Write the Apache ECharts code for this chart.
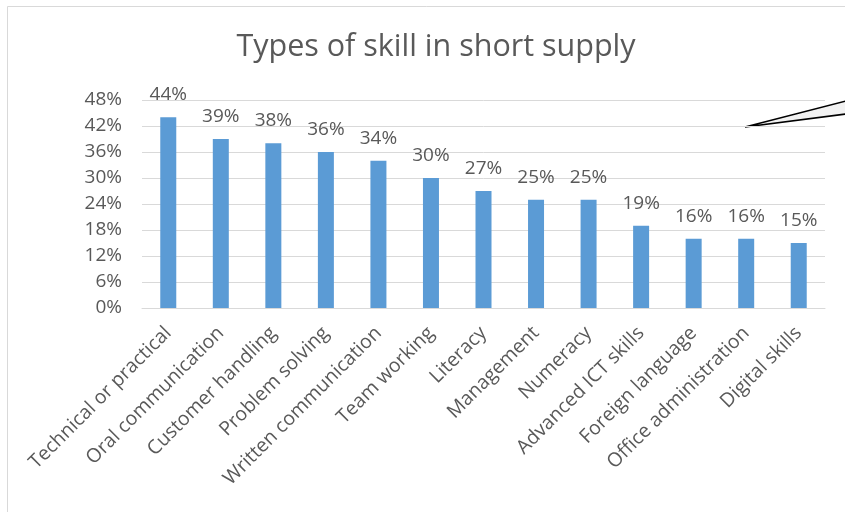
<!DOCTYPE html>
<html>
<head>
<meta charset="utf-8">
<script src="https://cdn.jsdelivr.net/npm/echarts@6/dist/echarts.min.js"></script>
<style>
  html, body { margin: 0; padding: 0; background: #fff; }
  #chart { width: 845px; height: 512px; }
</style>
</head>
<body>
<div id="chart"></div>
<script>
var skills = ['Technical or practical', 'Oral communication', 'Customer handling', 'Problem solving',
  'Written communication', 'Team working', 'Literacy', 'Management', 'Numeracy',
  'Advanced ICT skills', 'Foreign language', 'Office administration', 'Digital skills']
var shares = [44, 39, 38, 36, 34, 30, 27, 25, 25, 19, 16, 16, 15]

var chart = echarts.init(document.getElementById('chart'))
var font = '"Open Sans", "Noto Sans", sans-serif'

chart.setOption({
  backgroundColor: '#fff',
  animation: false,
  title: {
    text: 'Types of skill in short supply',
    left: 431,
    top: 27,
    textAlign: 'center',
    textStyle: { color: '#595959', fontSize: 30.5, fontWeight: 'normal', fontFamily: font }
  },
  grid: { left: 142, right: 20, top: 100, bottom: 204 },
  xAxis: {
    type: 'category',
    data: skills,
    axisLine: { lineStyle: { color: '#d9d9d9', width: 1 } },
    axisTick: { show: false },
    axisLabel: {
      interval: 0,
      rotate: 45,
      color: '#595959',
      fontSize: 19.5,
      fontFamily: font,
      margin: 22
    }
  },
  yAxis: {
    type: 'value',
    min: 0,
    max: 48,
    interval: 6,
    axisLine: { show: false },
    axisTick: { show: false },
    splitLine: { lineStyle: { color: '#d9d9d9', width: 1 } },
    axisLabel: {
      color: '#595959',
      fontSize: 19,
      fontFamily: font,
      margin: 20,
      formatter: '{value}%'
    }
  },
  series: [{
    type: 'bar',
    data: shares,
    barWidth: 16,
    itemStyle: { color: '#5b9bd5' },
    label: {
      show: true,
      position: 'top',
      distance: 13,
      color: '#595959',
      fontSize: 19,
      fontFamily: font,
      formatter: '{c}%'
    }
  }],
  graphic: [
    {
      type: 'rect',
      shape: { x: 7.5, y: 6.5, width: 900, height: 600 },
      style: { fill: 'none', stroke: '#d9d9d9', lineWidth: 1 },
      silent: true
    },
    {
      type: 'polygon',
      shape: { points: [[745, 127], [846, 101], [846, 114]] },
      style: { fill: '#f2f2f2', stroke: '#000', lineWidth: 1.5 },
      silent: true
    }
  ]
})
</script>
</body>
</html>
